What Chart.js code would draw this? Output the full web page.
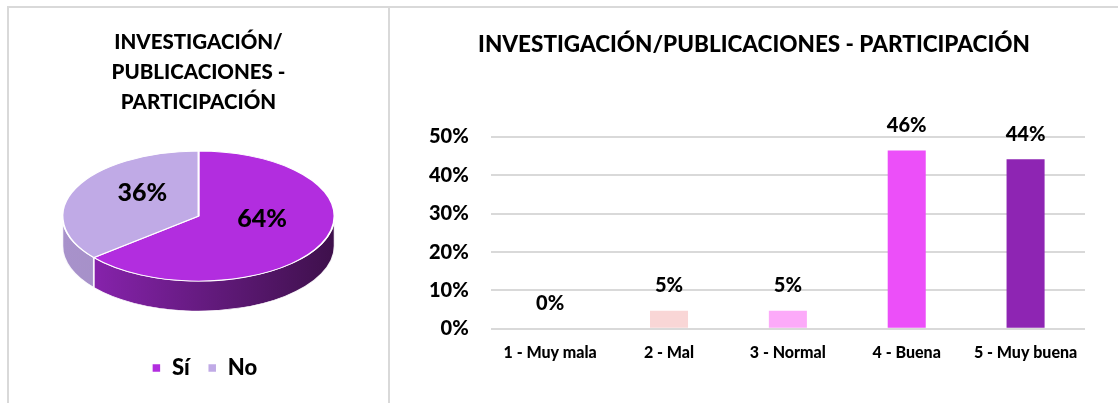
<!DOCTYPE html>
<html>
<head>
<meta charset="utf-8">
<script src="https://cdn.jsdelivr.net/npm/chart.js@4/dist/chart.umd.min.js"></script>
<style>
  html, body { margin: 0; padding: 0; background: #ffffff; }
  #wrap { position: relative; width: 1118px; height: 403px; overflow: hidden; background: #fff; }
  .line { position: absolute; background: #d9d9d9; }
  #pieBox { position: absolute; left: 9px; top: 9px; width: 379px; height: 394px; }
  #barBox { position: absolute; left: 390px; top: 9px; width: 728px; height: 394px; }
</style>
</head>
<body>
<div id="wrap">
  <div class="line" style="left:7px; top:6px; width:1111px; height:2px;"></div>
  <div class="line" style="left:7px; top:6px; width:2px; height:397px;"></div>
  <div class="line" style="left:388px; top:6px; width:2px; height:397px;"></div>
  <div id="pieBox"><canvas id="pie"></canvas></div>
  <div id="barBox"><canvas id="bar"></canvas></div>
</div>
<script>
// ---- data ----
const pieTitle = ["INVESTIGACIÓN/", "PUBLICACIONES -", "PARTICIPACIÓN"];
const pieLabels = ["Sí", "No"];
const pieValues = [64, 36];
const pieColors = ["#B22DDF", "#C0AAE6"];

const barTitle = "INVESTIGACIÓN/PUBLICACIONES - PARTICIPACIÓN";
const barCategories = ["1 - Muy mala", "2 - Mal", "3 - Normal", "4 - Buena", "5 - Muy buena"];
const barValues = [0, 4.7, 4.7, 46.5, 44.2];
const barColors = ["#D9D9D9", "#F9D6D6", "#FCAAF9", "#EC4FF9", "#8E25B3"];
const barLabels = ["0%", "5%", "5%", "46%", "44%"];

const FONT = "Lato, 'Open Sans', sans-serif";
const W = 900;

// ---- 3D pie plugin ----
const pie3d = {
  id: 'pie3d',
  afterLayout(chart, args, opts) {
    if (chart.legend && opts.legendShift) {
      chart.legend.left += opts.legendShift;
      chart.legend.right += opts.legendShift;
    }
  },
  beforeDatasetsDraw(chart, args, opts) {
    const meta = chart.getDatasetMeta(0);
    if (!meta.data.length) return;
    const a = meta.data[0];
    const cx = a.x, cy = a.y, r = a.outerRadius;
    const sx = opts.rx / r, sy = opts.ry / r;
    const tx = cx, ty = cy + opts.shiftY;
    chart.$pie3d = { cx, cy, sx, sy, tx, ty, r };
    const ctx = chart.ctx;
    ctx.save();
    ctx.translate(tx, ty); ctx.scale(sx, sy); ctx.translate(-cx, -cy);
    const D = opts.depth / sy;
    const TWO = Math.PI * 2;
    meta.data.forEach((arc, i) => {
      const ranges = [[0, Math.PI], [TWO, TWO + Math.PI], [-TWO, -Math.PI]];
      ranges.forEach(([lo, hi]) => {
        const s = Math.max(arc.startAngle, lo), e = Math.min(arc.endAngle, hi);
        if (e <= s) return;
        ctx.beginPath();
        ctx.arc(cx, cy, r, s, e);
        ctx.arc(cx, cy + D, r, e, s, true);
        ctx.closePath();
        const sc = opts.sideColors[i];
        const g = ctx.createLinearGradient(cx - r, 0, cx + r, 0);
        g.addColorStop(0, sc[0]);
        g.addColorStop(0.55, sc[1]);
        g.addColorStop(1, sc[2]);
        ctx.fillStyle = g;
        ctx.fill();
        ctx.strokeStyle = 'rgba(255,255,255,0.9)';
        ctx.lineWidth = 1.2;
        ctx.stroke();
      });
    });
  },
  afterDatasetsDraw(chart, args, opts) {
    const t = chart.$pie3d;
    if (!t) return;
    const ctx = chart.ctx;
    ctx.restore();
    const meta = chart.getDatasetMeta(0);
    ctx.save();
    ctx.font = W + " 25px " + FONT;
    ctx.fillStyle = '#000';
    ctx.textAlign = 'center';
    ctx.textBaseline = 'middle';
    const total = pieValues.reduce((p, c) => p + c, 0);
    meta.data.forEach((arc, i) => {
      const mid = (arc.startAngle + arc.endAngle) / 2 + opts.labelAngleOffset[i];
      const rr = t.r * opts.labelRadius[i];
      const px = t.cx + Math.cos(mid) * rr, py = t.cy + Math.sin(mid) * rr;
      const X = t.tx + (px - t.cx) * t.sx;
      const Y = t.ty + (py - t.cy) * t.sy;
      ctx.fillText(Math.round(pieValues[i] / total * 100) + '%', X, Y);
    });
    ctx.restore();
  }
};

new Chart(document.getElementById('pie'), {
  type: 'pie',
  data: {
    labels: pieLabels,
    datasets: [{
      data: pieValues,
      backgroundColor: pieColors,
      borderColor: '#ffffff',
      borderWidth: 1.5,
      clip: false
    }]
  },
  plugins: [pie3d],
  options: {
    responsive: true,
    maintainAspectRatio: false,
    animation: false,
    events: [],
    layout: { padding: { top: 0, bottom: 14, left: 0, right: 0 } },
    plugins: {
      title: {
        display: true,
        text: pieTitle,
        color: '#000',
        font: { family: FONT, size: 20.5, weight: W, lineHeight: 1.45 },
        padding: { top: 19, bottom: 10 }
      },
      legend: {
        display: true,
        position: 'bottom',
        labels: {
          color: '#000',
          font: { family: FONT, size: 22, weight: W },
          boxWidth: 9, boxHeight: 9, padding: 18
        }
      },
      tooltip: { enabled: false },
      pie3d: {
        rx: 136, ry: 65, depth: 30, shiftY: -17, legendShift: 6,
        labelRadius: [0.47, 0.55], labelAngleOffset: [-0.34, 0.28],
        sideColors: [["#9025B8", "#621A7C", "#3E104B"], ["#A892CB", "#A08CC0", "#9A86BA"]]
      }
    }
  }
});

// ---- bar chart ----
const barValueLabels = {
  id: 'barValueLabels',
  afterDatasetsDraw(chart) {
    const meta = chart.getDatasetMeta(0);
    const ctx = chart.ctx;
    ctx.save();
    ctx.font = W + " 20px " + FONT;
    ctx.fillStyle = '#000';
    ctx.textAlign = 'center';
    ctx.textBaseline = 'middle';
    meta.data.forEach((bar, i) => {
      ctx.fillText(barLabels[i], bar.x, bar.y - 25);
    });
    ctx.restore();
  }
};

new Chart(document.getElementById('bar'), {
  type: 'bar',
  data: {
    labels: barCategories,
    datasets: [{
      data: barValues,
      backgroundColor: barColors,
      borderWidth: 0,
      categoryPercentage: 0.64,
      barPercentage: 0.5
    }]
  },
  plugins: [barValueLabels],
  options: {
    responsive: true,
    maintainAspectRatio: false,
    animation: false,
    events: [],
    layout: { padding: { top: 0, bottom: 27, left: 33, right: 33 } },
    plugins: {
      legend: { display: false },
      tooltip: { enabled: false },
      title: {
        display: true,
        text: barTitle,
        color: '#000',
        font: { family: FONT, size: 22.5, weight: W, lineHeight: 1.2 },
        padding: { top: 22, bottom: 79 }
      }
    },
    scales: {
      x: {
        grid: { display: false, drawTicks: false },
        border: { display: false },
        ticks: {
          color: '#000',
          font: { family: FONT, size: 16, weight: W },
          padding: 14,
          maxRotation: 0,
          autoSkip: false
        }
      },
      y: {
        min: 0, max: 50,
        afterFit(scale) { scale.width -= 16; },
        grid: { color: '#d9d9d9', lineWidth: 2, drawTicks: false },
        border: { display: false },
        ticks: {
          stepSize: 10,
          color: '#000',
          font: { family: FONT, size: 20, weight: W },
          padding: 22,
          callback: v => v + '%'
        }
      }
    }
  }
});
</script>
</body>
</html>
